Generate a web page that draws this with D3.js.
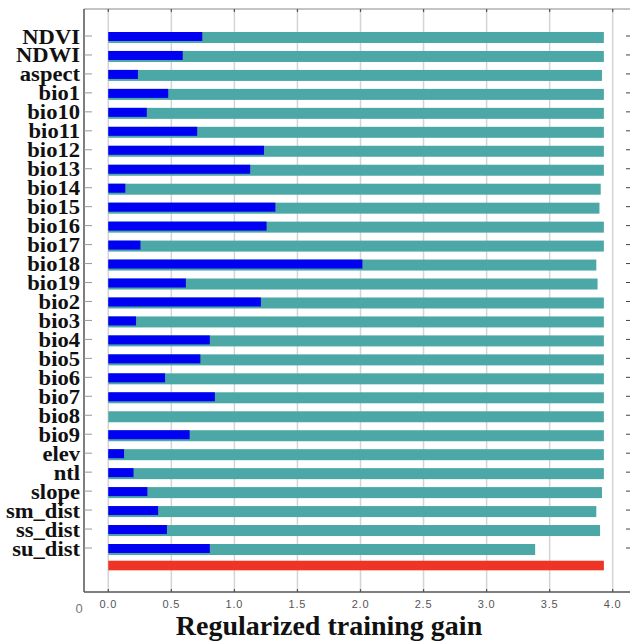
<!DOCTYPE html>
<html>
<head>
<meta charset="utf-8">
<script src="https://cdn.jsdelivr.net/npm/d3@7"></script>
<style>
  body { margin: 0; background: #fff; }
  svg { display: block; }
</style>
</head>
<body>
<svg id="chart" width="630" height="644"></svg>
<script>
// variables in the jackknife, top to bottom
var variables = ["NDVI", "NDWI", "aspect", "bio1", "bio10", "bio11", "bio12", "bio13", "bio14",
  "bio15", "bio16", "bio17", "bio18", "bio19", "bio2", "bio3", "bio4", "bio5", "bio6", "bio7",
  "bio8", "bio9", "elev", "ntl", "slope", "sm_dist", "ss_dist", "su_dist"];

// gain without the variable (teal)
var withoutGain = [3.93, 3.93, 3.915, 3.93, 3.93, 3.93, 3.93, 3.93, 3.905,
  3.895, 3.93, 3.93, 3.87, 3.88, 3.93, 3.93, 3.93, 3.93, 3.93, 3.93,
  3.93, 3.93, 3.93, 3.93, 3.915, 3.87, 3.9, 3.385];

// gain with only the variable (blue)
var onlyGain = [0.745, 0.59, 0.235, 0.475, 0.305, 0.705, 1.235, 1.125, 0.135,
  1.325, 1.255, 0.255, 2.015, 0.615, 1.21, 0.22, 0.805, 0.73, 0.45, 0.845,
  0.0, 0.645, 0.125, 0.2, 0.31, 0.395, 0.465, 0.805];

// gain with all variables (red)
var allGain = 3.93;

var xTicks = [0, 0.5, 1, 1.5, 2, 2.5, 3, 3.5, 4];

var TEAL = "#4ca7a7";
var BLUE = "#0000f2";
var RED = "#ee3424";
var GRID = "#d4d4d4";

var svg = d3.select("#chart");
var frame = { left: 84, top: 9, right: 630, bottom: 592 };

var x = d3.scaleLinear().domain([0, 4]).range([108.3, 612.7]);
var y = d3.scalePoint().domain(variables).range([37.5, 549.5]);
var yAll = y(variables[variables.length - 1]) + y.step() * 0.845;

svg.append("rect").attr("width", 630).attr("height", 644).attr("fill", "#fff");

// vertical grid lines
svg.append("g")
  .selectAll("line")
  .data(xTicks)
  .join("line")
  .attr("x1", function(d) { return x(d); })
  .attr("x2", function(d) { return x(d); })
  .attr("y1", frame.top)
  .attr("y2", frame.bottom)
  .attr("stroke", GRID)
  .attr("stroke-width", 1.5);

// frame lines
svg.append("line").attr("x1", frame.left).attr("x2", frame.right)
  .attr("y1", frame.top).attr("y2", frame.top).attr("stroke", "#8a8a8a").attr("stroke-width", 1.2);
svg.append("line").attr("x1", frame.left).attr("x2", frame.right)
  .attr("y1", frame.bottom).attr("y2", frame.bottom).attr("stroke", "#555").attr("stroke-width", 1.5);
svg.append("line").attr("x1", frame.left).attr("x2", frame.left)
  .attr("y1", frame.top).attr("y2", frame.bottom).attr("stroke", "#555").attr("stroke-width", 1.5);

// small tick marks at top and bottom
var tickG = svg.append("g").attr("stroke", "#555").attr("stroke-width", 1.2);
xTicks.forEach(function(t) {
  tickG.append("line").attr("x1", x(t)).attr("x2", x(t)).attr("y1", frame.top).attr("y2", frame.top + 3);
  tickG.append("line").attr("x1", x(t)).attr("x2", x(t)).attr("y1", frame.bottom - 3).attr("y2", frame.bottom);
});

// row ticks on left and right
var rowTicks = svg.append("g").attr("stroke", "#999").attr("stroke-width", 1);
variables.forEach(function(v) {
  rowTicks.append("line").attr("x1", frame.left).attr("x2", frame.left + 8)
    .attr("y1", y(v) - 1.5).attr("y2", y(v) - 1.5);
  rowTicks.append("line").attr("x1", 626).attr("x2", 630)
    .attr("y1", y(v) - 1.5).attr("y2", y(v) - 1.5).attr("stroke", "#444");
});

// teal bars (without variable)
svg.append("g")
  .selectAll("rect")
  .data(variables)
  .join("rect")
  .attr("x", x(0))
  .attr("y", function(d) { return y(d) - 5.5; })
  .attr("width", function(d, i) { return x(withoutGain[i]) - x(0); })
  .attr("height", 11)
  .attr("fill", TEAL);

// blue bars (with only variable)
svg.append("g")
  .selectAll("rect")
  .data(variables)
  .join("rect")
  .attr("x", x(0))
  .attr("y", function(d) { return y(d) - 5.5; })
  .attr("width", function(d, i) { return x(onlyGain[i]) - x(0); })
  .attr("height", 9)
  .attr("fill", BLUE);

// red bar (all variables)
svg.append("rect")
  .attr("x", x(0))
  .attr("y", yAll - 4.8)
  .attr("width", x(allGain) - x(0))
  .attr("height", 9.6)
  .attr("fill", RED);

// row labels, a bit stretched sideways like the original
svg.append("g")
  .selectAll("text")
  .data(variables)
  .join("text")
  .attr("transform", function(d) { return "translate(80," + (y(d) + 6) + ") scale(1.075,1)"; })
  .attr("text-anchor", "end")
  .attr("font-family", "'Liberation Serif', 'Times New Roman', serif")
  .attr("font-weight", "bold")
  .attr("font-size", 21)
  .attr("fill", "#111")
  .text(function(d) { return d; });

// x tick labels
svg.append("g")
  .selectAll("text")
  .data(xTicks)
  .join("text")
  .attr("x", function(d) { return x(d); })
  .attr("y", 608)
  .attr("text-anchor", "middle")
  .attr("font-family", "'Liberation Sans', Arial, sans-serif")
  .attr("font-size", 11)
  .attr("letter-spacing", 0.8)
  .attr("fill", "#555")
  .text(function(d) { return d3.format(".1f")(d); });

// stray zero at the corner
svg.append("text")
  .attr("x", 79).attr("y", 613)
  .attr("text-anchor", "middle")
  .attr("font-family", "'Liberation Sans', Arial, sans-serif")
  .attr("font-size", 13)
  .attr("fill", "#777")
  .text("0");

// axis title
svg.append("text")
  .attr("x", 329).attr("y", 635)
  .attr("text-anchor", "middle")
  .attr("font-family", "'Liberation Serif', 'Times New Roman', serif")
  .attr("font-weight", "bold")
  .attr("font-size", 28)
  .attr("fill", "#111")
  .text("Regularized training gain");
</script>
</body>
</html>
